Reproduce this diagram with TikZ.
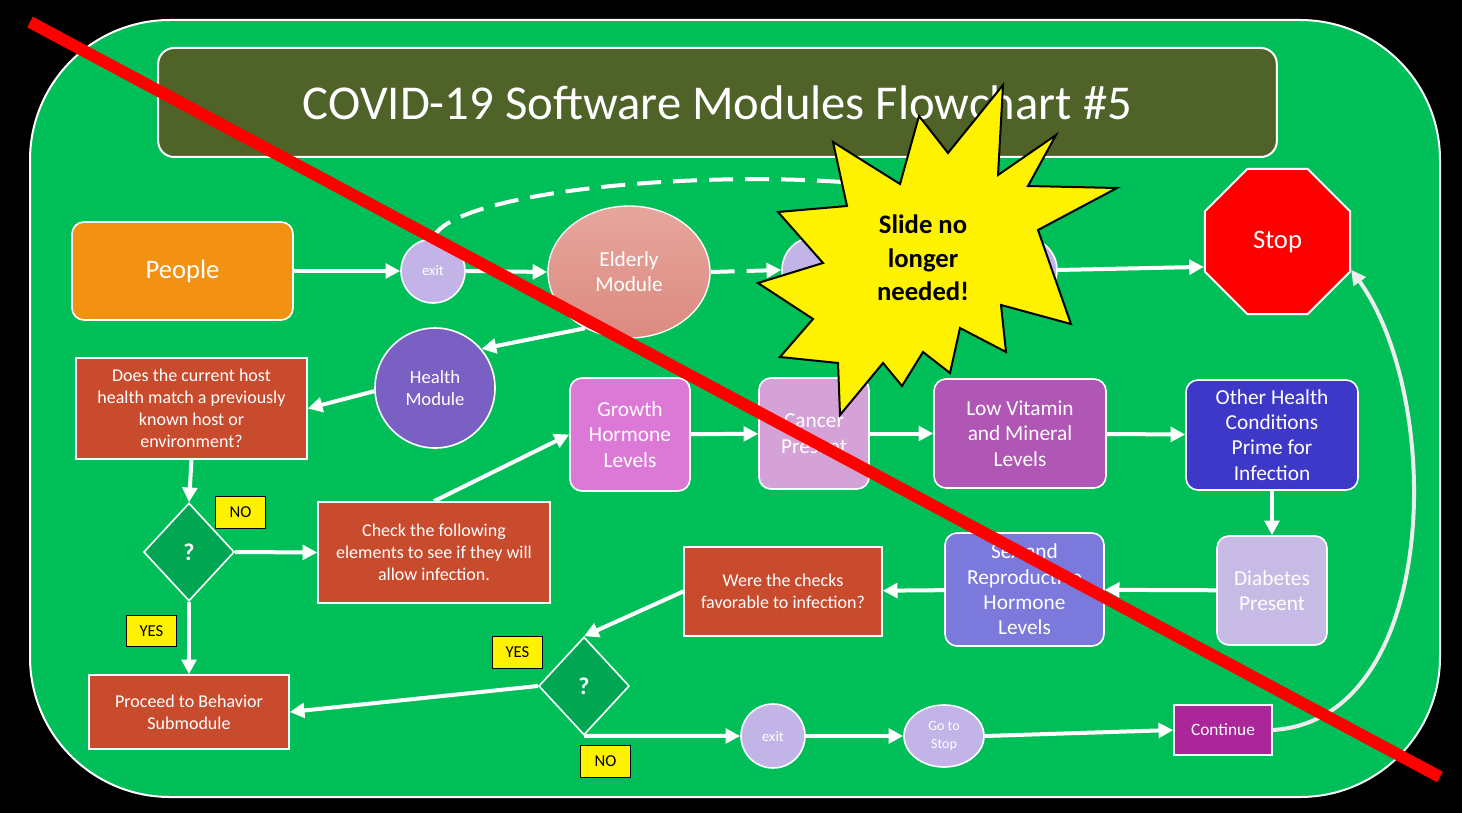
\documentclass[tikz,border=0pt]{standalone}
\usepackage{fontspec}
\setmainfont{Carlito}
\usepackage{tikz}
\usetikzlibrary{arrows.meta,shapes.geometric}
\definecolor{slidegreen}{HTML}{00BF59}
\definecolor{darkgreen}{HTML}{00A651}
\definecolor{titleolive}{HTML}{4F6228}
\definecolor{brickred}{HTML}{C84B2E}
\definecolor{peopleorange}{HTML}{F39112}
\definecolor{lilac}{HTML}{C2B4E6}
\definecolor{healthpurple}{HTML}{7B60C4}
\definecolor{salmontop}{HTML}{E6A69C}
\definecolor{salmonbot}{HTML}{DC8A80}
\definecolor{growthpink}{HTML}{DC79D6}
\definecolor{cancermauve}{HTML}{D4A2D6}
\definecolor{vitpurple}{HTML}{B056B4}
\definecolor{otherblue}{HTML}{3E38C8}
\definecolor{diablilac}{HTML}{C7BBE6}
\definecolor{sexblue}{HTML}{7B79DB}
\definecolor{contmagenta}{HTML}{AA2699}

\begin{document}
\begin{tikzpicture}[x=0.75pt,y=-0.75pt,>={Triangle[length=11pt,width=11pt]},
  arr/.style={->,white,line width=3pt},
  box/.style={draw=white,line width=1.2pt,rounded corners=9pt,text=white,align=center,inner sep=2pt,font=\fontsize{16}{19}\selectfont},
  rbox/.style={draw=white,line width=1.2pt,fill=brickred,text=white,align=center,inner sep=2pt,font=\fontsize{13.5}{16.5}\selectfont},
  blob/.style={circle,draw=white,line width=1.2pt,fill=lilac,text=white,minimum size=48pt,inner sep=0pt,font=\fontsize{11}{13}\selectfont},
  dec/.style={diamond,draw=white,line width=1.2pt,fill=darkgreen,text=white,minimum width=68pt,minimum height=73.5pt,inner sep=0pt,font=\bfseries\fontsize{18}{20}\selectfont},
  tag/.style={draw=black,line width=0.8pt,fill=yellow,minimum width=38pt,minimum height=23.5pt,inner sep=0pt,font=\fontsize{12.5}{14}\selectfont}]
	 \useasboundingbox (0,0) rectangle (1462,813);
	 \fill[black] (0,0) rectangle (1462,813);
	 \draw[white,fill=slidegreen,line width=1.5pt,rounded corners=105pt] (30,20) rectangle (1440,797);
	 \node[draw=white,line width=1.5pt,rounded corners=12pt,fill=titleolive,minimum width=839pt,minimum height=81.75pt,text=white,font=\fontsize{36.5}{40}\selectfont] (title) at (717.5,102.5) {COVID-19 Software Modules Flowchart \#5};
	 \node[box,fill=peopleorange,minimum width=165.75pt,minimum height=73.5pt,font=\fontsize{20}{24}\selectfont] (people) at (182.5,271) {People};
	 \node[blob] (exitA) at (433,271) {exit};
	 \node[ellipse,draw=white,line width=1pt,top color=salmontop,bottom color=salmonbot,minimum width=121.5pt,minimum height=99pt,text=white,align=center,font=\fontsize{16}{19}\selectfont] (elderly) at (629,272) {Elderly\\Module};
	 \node[blob,minimum size=49.5pt] (exitB) at (815,270) {};
	 \node[blob] (exitC) at (1025,270) {};
	 \node[regular polygon,regular polygon sides=8,minimum size=118pt,inner sep=0pt,fill=red,draw=white,line width=1.5pt,text=white,font=\fontsize{20}{24}\selectfont] (stop) at (1277.5,241.5) {Stop};
	 \node[circle,draw=white,line width=1.2pt,fill=healthpurple,minimum size=90pt,inner sep=0pt,text=white,align=center,font=\fontsize{14}{17}\selectfont] (health) at (435,388) {Health\\Module};
	 \node[rbox,minimum width=173.25pt,minimum height=75.75pt] (ask) at (191.5,408.5) {Does the current host\\health match a previously\\known host or\\environment?};
	 \node[dec] (decA) at (189,552) {?};
	 \node[tag] (noA) at (240.5,512.5) {NO};
	 \node[tag] (yesA) at (151.5,631) {YES};
	 \node[rbox,minimum width=174pt,minimum height=75.75pt] (check) at (434,552.5) {Check the following\\elements to see if they will\\allow infection.};
	 \node[box,fill=growthpink,minimum width=90pt,minimum height=84.75pt] (growth) at (630,434.5) {Growth\\Hormone\\Levels};
	 \node[box,fill=cancermauve,minimum width=82.5pt,minimum height=83.25pt] (cancer) at (814,433.5) {Cancer\\Present};
	 \node[box,fill=vitpurple,minimum width=129pt,minimum height=81.75pt] (lowvit) at (1020,433.5) {Low Vitamin\\and Mineral\\Levels};
	 \node[box,fill=otherblue,minimum width=129pt,minimum height=82.5pt] (other) at (1272,435) {Other Health\\Conditions\\Prime for\\Infection};
	 \node[box,fill=diablilac,minimum width=82.5pt,minimum height=81.75pt] (diabetes) at (1272,590.5) {Diabetes\\Present};
	 \node[box,fill=sexblue,minimum width=119.25pt,minimum height=84.75pt] (sexrep) at (1024.5,589.5) {Sex and\\Reproductive\\Hormone\\Levels};
	 \node[rbox,minimum width=148.5pt,minimum height=66.75pt] (were) at (783,591.5) {Were the checks\\favorable to infection?};
	 \node[dec] (decB) at (584,686) {?};
	 \node[tag] (yesB) at (517.5,652.5) {YES};
	 \node[tag] (noB) at (605.5,761.5) {NO};
	 \node[rbox,minimum width=150pt,minimum height=55.5pt] (proceed) at (189,712) {Proceed to Behavior\\Submodule};
	 \node[blob] (exitD) at (773,736) {exit};
	 \node[ellipse,draw=white,line width=1.2pt,fill=lilac,minimum width=60pt,minimum height=46.5pt,inner sep=0pt,text=white,align=center,font=\fontsize{10.5}{13.5}\selectfont] (gostop) at (944,736) {Go to\\Stop};
	 \node[draw=white,line width=1.2pt,fill=contmagenta,minimum width=73.5pt,minimum height=37.5pt,text=white,font=\fontsize{13}{15}\selectfont] (cont) at (1223,730) {Continue};
	 \draw[arr] (people.east) -- (exitA.west);
	 \draw[arr] (exitA.east) -- (elderly.west);
	 \draw[arr,dash pattern=on 18pt off 9pt] (elderly.east) -- (exitB.west);
	 \draw[white,line width=3pt,dash pattern=on 18pt off 9pt] (exitA.north) .. controls (460,170) and (990,150) .. (exitC.north);
	 \draw[arr] (exitC.east) -- (stop.199);
	 \draw[arr] (elderly.232) -- (health.40);
	 \draw[arr] (health.183) -- (ask.east);
	 \draw[arr] (ask.south) -- (decA.north);
	 \draw[arr] (decA.east) -- (check.west);
	 \draw[arr] (decA.south) -- (proceed.north);
	 \draw[arr] (check.north) -- (growth.west);
	 \draw[arr] (growth) -- (cancer);
	 \draw[arr] (cancer) -- (lowvit);
	 \draw[arr] (lowvit) -- (other);
	 \draw[arr] (other) -- (diabetes);
	 \draw[arr] (diabetes) -- (sexrep);
	 \draw[arr] (sexrep) -- (were);
	 \draw[arr] (were.west) -- (decB.north);
	 \draw[arr] (decB.west) -- (proceed.east);
	 \draw[arr] (decB.south) -- (exitD.west);
	 \draw[arr] (exitD) -- (gostop);
	 \draw[arr] (gostop.east) -- (cont.west);
	 \draw[arr,draw=white!93!black] (cont.east) .. controls (1440,720) and (1445,400) .. (stop.-21);
	 \draw[fill=yellow,line width=1.5pt] (1003,85) -- (998,175) -- (1056,135) -- (1028,186) -- (1117,188) -- (1038,230) -- (1071,324) -- (1001,305) -- (1006,352) -- (960,328) -- (950,373) -- (923,352) -- (902,386) -- (883,363) -- (840,415) -- (838,363) -- (780,357) -- (813,319) -- (758,283) -- (823,263) -- (778,212) -- (847,206) -- (833,142) -- (900,184) -- (919,116) -- (948,153) -- cycle;
	 \node[font=\bfseries\fontsize{20}{25}\selectfont,align=center] (burst) at (923,258) {Slide no\\longer\\needed!};
	 \draw[red,line width=9pt] (30,22) -- (1440,777);
	\end{tikzpicture}
\end{document}
